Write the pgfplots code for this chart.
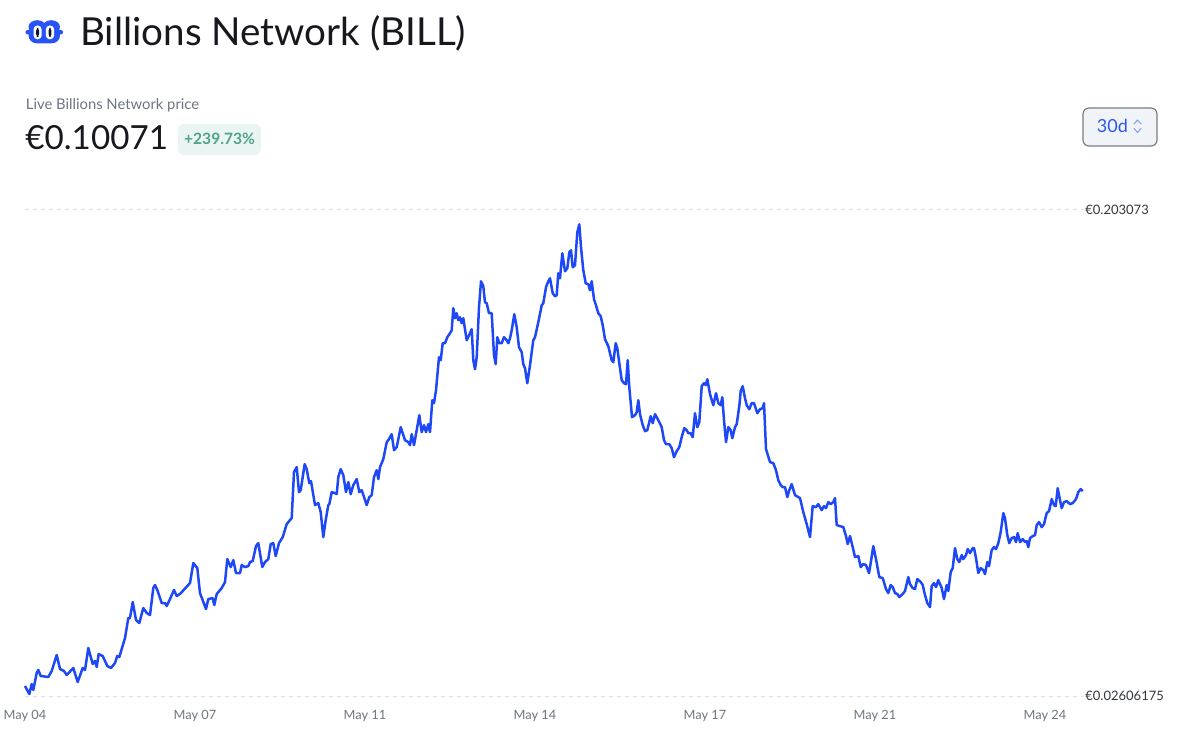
\documentclass[border=0pt]{standalone}
\usepackage{fontspec}
\setmainfont{Lato}
\usepackage{pgfplots}
\pgfplotsset{compat=1.18}
\definecolor{linecol}{RGB}{30,72,245}
\definecolor{logoblue}{RGB}{40,84,245}
\definecolor{logodark}{RGB}{15,20,45}
\definecolor{darktext}{RGB}{22,24,29}
\definecolor{graytext}{RGB}{110,116,128}
\definecolor{ylabtext}{RGB}{50,54,60}
\definecolor{gridcol}{RGB}{218,222,228}
\definecolor{badgebg}{RGB}{234,244,243}
\definecolor{badgetext}{RGB}{78,162,136}
\definecolor{btnbg}{RGB}{240,244,248}
\definecolor{btnborder}{RGB}{120,126,134}
\definecolor{btntext}{RGB}{45,85,235}
\definecolor{chev}{RGB}{130,155,240}
\begin{document}
\begin{tikzpicture}[x=0.5pt,y=-0.5pt]
\path[use as bounding box] (0,0) rectangle (1200,732);
% logo
\fill[logoblue, rounded corners=1pt] (25.5,30) rectangle (31,34.5);
\fill[logoblue, rounded corners=1pt] (57.5,30) rectangle (63,34.5);
\fill[logoblue, rounded corners=4pt] (28.5,25) rectangle (60,43.3);
\fill[logoblue] (37.2,27) ellipse [x radius=8.7, y radius=6.8];
\fill[logoblue] (51.3,27) ellipse [x radius=8.7, y radius=6.8];
\fill[white, rounded corners=2pt] (33.5,25.5) rectangle (41.7,39.3);
\fill[white, rounded corners=2pt] (45.8,25.5) rectangle (54.2,39.3);
\fill[logodark, rounded corners=1.3pt] (36.2,28) rectangle (39,36.8);
\fill[logodark, rounded corners=1.3pt] (48.6,28) rectangle (51.4,36.8);
% title
\node[anchor=base west, inner sep=0pt, font=\fontsize{19.3}{23}\selectfont, text=darktext] at (80,46) {Billions Network (BILL)};
\node[anchor=base west, inner sep=0pt, font=\fontsize{7.4}{8}\selectfont, text=graytext] at (25.5,109.5) {Live Billions Network price};
\node[anchor=base west, inner sep=0pt, font=\fontsize{16.6}{19}\selectfont, text=darktext] at (25,150) {€0.10071};
\fill[badgebg, rounded corners=3pt] (178,124) rectangle (261,155);
\node[anchor=base, inner sep=0pt, font=\fontsize{7.8}{9}\selectfont\bfseries, text=badgetext] at (219.5,144.5) {+239.73\%};
% button
\draw[btnborder, fill=btnbg, line width=0.6pt, rounded corners=3pt] (1083,108) rectangle (1157,146);
\node[anchor=base west, inner sep=0pt, font=\fontsize{9}{10}\selectfont, text=btntext] at (1096.5,132.5) {30d};
\draw[chev, line width=0.5pt, line cap=round, line join=round] (1134,124) -- (1137.5,120) -- (1141,124);
\draw[chev, line width=0.5pt, line cap=round, line join=round] (1134,128.5) -- (1137.5,132.5) -- (1141,128.5);
\begin{axis}[
  at={(12.5pt,-348pt)}, anchor=south west,
  scale only axis, width=529pt, height=243pt,
  xmin=0, xmax=1058, ymin=0.02606175, ymax=0.203073,
  axis line style={draw=none},
  major tick length=0pt,
  xtick={0,170,340,510,680,850,1020},
  xticklabels={May 04,May 07,May 11,May 14,May 17,May 21,May 24},
  xticklabel style={anchor=base, yshift=-11.75pt, font=\fontsize{6.4}{7}\selectfont, text=graytext},
  ytick={0.02606175,0.203073},
  yticklabels={€0.02606175,€0.203073},
  yticklabel pos=right,
  yticklabel style={anchor=west, inner sep=0pt, xshift=1pt, font=\fontsize{6.5}{7}\selectfont, text=ylabtext},
  ymajorgrids, grid style={gridcol, dash pattern=on 2pt off 2pt, line width=0.5pt},
  clip=false,
]
\addplot[linecol, line width=1.25pt, line join=round, mark=none] coordinates {
(0,0.02970)(4.3,0.02679)(6.7,0.03043)(8.3,0.02825)(11.7,0.03444)(13.3,0.03553)(15.7,0.03335)(23.3,0.03298)(26.7,0.03517)(31.7,0.04099)(35,0.03590)(39,0.03517)(41.7,0.03371)(48.3,0.03626)(52.7,0.03116)(57.7,0.03626)(60,0.03553)(63.3,0.04354)(67.7,0.03772)(70,0.03881)(71.7,0.03662)(73.7,0.04136)(77.7,0.04063)(82.3,0.03699)(86,0.03626)(90,0.03808)(92.3,0.04063)(94.3,0.04026)(100,0.04718)(103.3,0.05447)(105,0.05447)(107.7,0.06029)(111,0.05374)(114.3,0.05265)(118.3,0.05811)(121.7,0.05629)(125,0.05556)(128.3,0.06540)(130,0.06649)(132.3,0.06467)(136.7,0.05993)(140,0.05993)(141.7,0.05884)(145,0.06139)(149,0.06467)(151.7,0.06248)(155,0.06321)
(165,0.06719)(168.3,0.07447)(172.3,0.07265)(175,0.06355)(181,0.05773)(183.3,0.06137)(187.7,0.06173)(189.3,0.05918)(191.7,0.06319)(196.7,0.06537)(200,0.06756)(202.3,0.07593)(205.7,0.07302)(208.3,0.07556)(211,0.07083)(215,0.07083)(216.7,0.07374)(220,0.07302)(223.3,0.07338)(225,0.07484)(227.7,0.07520)(231,0.08066)(233.3,0.08175)(237.3,0.07302)(240,0.07484)(243.3,0.07593)(245.7,0.08139)(248.3,0.08175)(250.7,0.07702)(254,0.08175)(257.7,0.08394)(261.7,0.08867)(265,0.09012)(266.7,0.09085)(269,0.10760)(271.7,0.10942)(274,0.10032)(275.7,0.10104)(279.7,0.11051)(281.7,0.10869)(284.3,0.10359)(286,0.10432)(290,0.09558)(293.3,0.09631)(295.7,0.09304)(298.3,0.08394)(300.7,0.09012)(303.3,0.09558)(304.3,0.09595)(306.7,0.10032)(310,0.09995)(311.7,0.09959)(313.3,0.10578)(315.7,0.10869)(318.3,0.10650)(321,0.10032)(323.3,0.10396)(325.7,0.09959)(328.3,0.10286)(331.7,0.10505)(334.3,0.10032)(336.7,0.10104)(341.7,0.09558)(344.3,0.09850)(346.7,0.09922)(349,0.10578)(351.7,0.10832)(353.3,0.10505)(355,0.10942)
(358.3,0.11233)(361.7,0.11852)(363.3,0.11924)(366.7,0.12143)(369,0.11560)(371.7,0.11670)(375.7,0.12398)(380,0.11924)(383.3,0.11852)(385,0.11742)(386.7,0.12143)(389,0.11742)(391.7,0.12288)(394.3,0.12834)(396.7,0.12216)(399,0.12470)(401,0.12216)(403.3,0.12507)(405,0.12216)(407.3,0.13380)(409,0.13271)(411,0.13744)(414,0.14946)(415.7,0.14836)(417.7,0.15455)(420,0.15455)(422.3,0.15674)(425,0.15819)(426.7,0.15928)(428.3,0.16729)(430,0.16365)(431.7,0.16547)(433.3,0.16292)(435,0.16402)(436.7,0.16183)(438.3,0.16365)(441.7,0.15564)(445,0.15819)(446.7,0.15965)(448.3,0.14836)(450,0.14509)(451.7,0.14946)(454,0.16766)(456,0.17712)(458.3,0.17530)(460,0.16948)(461.7,0.16911)(464,0.16547)(466.7,0.16547)(469,0.15018)(470.7,0.14691)(472.3,0.15674)(474.3,0.15455)(476.7,0.15455)(479,0.15674)(481.7,0.15564)(483.3,0.15455)(485,0.15637)(486.7,0.15928)(489.3,0.16511)(491.7,0.16038)(494,0.15310)(496.7,0.15128)(498.3,0.14691)(500,0.14545)(502.3,0.13999)(505,0.14654)(508.3,0.15564)(510,0.15674)(513.3,0.16220)(516.7,0.16838)(518.3,0.16911)(521,0.17494)(523.3,0.17712)(525,0.17821)
(527.7,0.17275)(530,0.17166)(531.7,0.17202)(533.3,0.18003)(535,0.17821)(537.3,0.18731)(540,0.18076)(542.3,0.18185)(544.3,0.18768)(546,0.18840)(547.7,0.18222)(550,0.18294)(552.3,0.19496)(554.3,0.19787)(556,0.18950)(558.3,0.18112)(560.7,0.17639)(563.3,0.17603)(565,0.17384)(566.7,0.17712)(569,0.17057)(571,0.16838)(573.3,0.16547)(575.7,0.16438)(577.7,0.16110)(580,0.15601)(583.3,0.15346)(586.7,0.14836)(588.3,0.14764)(590.7,0.15455)(592.3,0.15273)(594.3,0.14727)(596.7,0.14108)(599,0.13999)(601,0.13963)(602.7,0.14836)(604.3,0.13854)(607,0.12762)(610,0.12834)(611.7,0.12944)(613.3,0.13380)(615,0.12871)(617.7,0.12470)(620,0.12252)(622.3,0.12288)(625.7,0.12798)(627.7,0.12543)(630,0.12871)(633.3,0.12652)(636.7,0.12398)(639,0.11924)(641,0.11779)(644.3,0.11779)(646.7,0.11633)(649,0.11306)(651.7,0.11524)(654.3,0.11670)(656.7,0.12034)(659.3,0.12361)(661.7,0.12288)(663.3,0.12179)(665.7,0.12179)(667.7,0.12034)(670,0.12907)(672.3,0.12398)(674.3,0.12580)
(676.7,0.13890)(679,0.13999)(680.7,0.13926)(682.3,0.14145)(685,0.13599)(688.3,0.13198)(691,0.13635)(693.3,0.13271)(695.7,0.13198)(697.3,0.13490)(699,0.12652)(701,0.11852)(703.3,0.12398)(705.7,0.12288)(707.3,0.11997)(710,0.12398)(711.7,0.12507)(714.3,0.13162)(715.7,0.13708)(717.7,0.13890)(720,0.13453)(721.7,0.13198)(724.3,0.13053)(726.7,0.13271)(729,0.13271)(732.3,0.12907)(735,0.13053)(737.7,0.13089)(739,0.13271)(741,0.11597)(745,0.11124)(748.3,0.11087)(751,0.10832)(753.3,0.10468)(755.7,0.10286)(757.7,0.10214)(760,0.10214)(762.3,0.09850)(764.3,0.10104)(766.7,0.10323)(770,0.09922)(773.3,0.09850)(775,0.09813)(778.3,0.09304)(781.7,0.08867)(785,0.08394)(787.7,0.09522)(791,0.09486)(793.3,0.09595)(796.7,0.09376)(799,0.09522)(801,0.09449)(803.3,0.09668)(805.7,0.09595)(808.3,0.09668)(810,0.09813)(811.7,0.08830)(815,0.08794)(818.3,0.08758)(821,0.08430)(822.7,0.08139)(825,0.08430)(827.7,0.08030)(830,0.07666)(833.3,0.07702)(835.7,0.07302)(838.3,0.07411)(841,0.07374)(844,0.07083)(845.7,0.07447)(848.3,0.08066)(851,0.07593)(854.3,0.06938)(857.7,0.06901)(861,0.06501)(863.3,0.06355)(865.7,0.06649)(867.7,0.06574)
(870,0.06355)(872.3,0.06321)(874.3,0.06210)(877.7,0.06321)(880,0.06428)(883.3,0.06938)(885,0.06683)(887.7,0.06537)(890,0.06501)(892.3,0.06865)(895.7,0.06756)(897.7,0.06649)(900,0.06282)(902.3,0.05993)(905,0.05846)(906.7,0.06610)(909,0.06719)(911,0.06574)(913.3,0.06828)(916.7,0.06537)(919,0.06137)(921.7,0.06649)(923.3,0.06428)(925.7,0.07120)(927.7,0.07265)(930,0.07993)(932.3,0.07593)(934.3,0.07484)(936.7,0.07738)(938.3,0.07593)(941,0.07738)(942.7,0.07957)(945,0.07811)(947.7,0.07993)(949,0.07993)(951,0.07629)(953.3,0.07083)(955.7,0.07265)(958.3,0.07192)(960,0.07047)(962.3,0.07484)(964,0.07338)(966.7,0.07920)(969,0.08030)(971,0.07957)(973.3,0.08175)(975.7,0.08576)(978.3,0.09267)(980,0.09085)(982.3,0.08466)(984.3,0.08175)(986.7,0.08357)(989,0.08394)(991,0.08212)(992.7,0.08539)(995,0.08212)(997.7,0.08321)(1000,0.08212)(1001.7,0.08248)(1003.3,0.08030)(1005,0.08357)(1007.7,0.08430)(1010,0.08466)(1011.7,0.08830)(1014,0.08940)(1016.7,0.08758)(1019,0.08867)(1021.7,0.09267)(1024,0.09340)(1026.7,0.09777)(1029,0.09558)(1030.7,0.09522)(1032.7,0.10177)(1035,0.09740)(1036.7,0.09449)(1039,0.09668)(1041.7,0.09704)(1045,0.09595)(1047.7,0.09631)(1051,0.09777)(1053.3,0.10032)(1055.7,0.10141)(1057.7,0.10068)
};
\end{axis}
\end{tikzpicture}
\end{document}
